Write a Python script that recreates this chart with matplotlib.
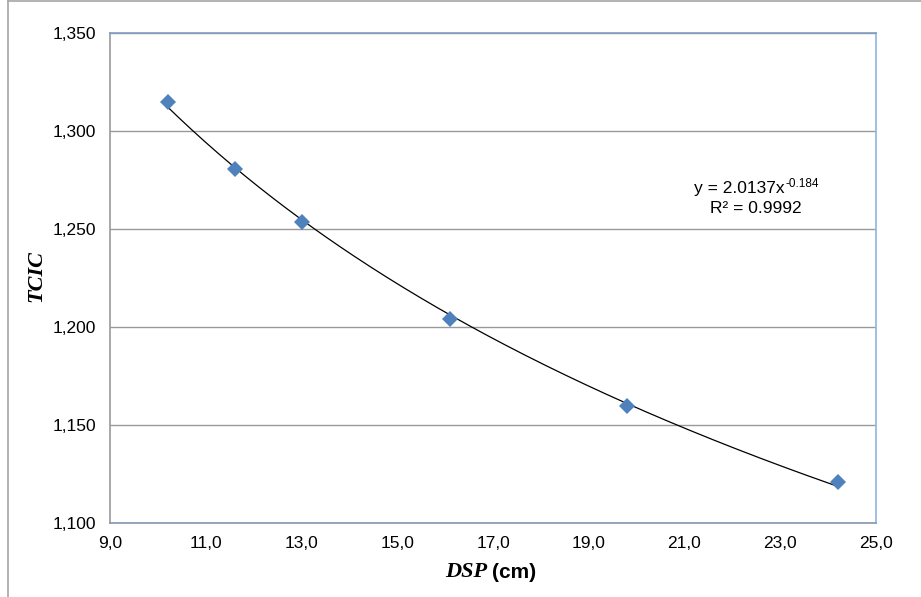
import numpy as np
import matplotlib.pyplot as plt
from matplotlib.lines import Line2D

# data
dsp = [10.22, 11.61, 13.00, 16.10, 19.79, 24.20]
tcic = [1.315, 1.2806, 1.2535, 1.2039, 1.1599, 1.1211]
x_ticks = [9, 11, 13, 15, 17, 19, 21, 23, 25]
y_ticks = [1.100, 1.150, 1.200, 1.250, 1.300, 1.350]

W, H = 921, 597
fig = plt.figure(figsize=(W / 100, H / 100), dpi=100)
ax = fig.add_axes([110 / W, 1 - 523 / H, 766 / W, 490 / H])

# outer chart border (left and top visible)
fig.add_artist(Line2D([7.5 / W, 7.5 / W], [0, 1 - 1 / H], color='#a6a6a6', lw=1.2))
fig.add_artist(Line2D([7.5 / W, 1], [1 - 1 / H, 1 - 1 / H], color='#a6a6a6', lw=1.2))

## power trendline fitted on the points
b, ln_a = np.polyfit(np.log(dsp), np.log(tcic), 1)
xs = np.linspace(min(dsp), max(dsp), 200)
ax.plot(xs, np.exp(ln_a) * xs ** b, color='black', lw=0.9, zorder=3)

ax.plot(dsp, tcic, 'D', color='#4F81BD', markersize=8.5, markeredgewidth=0, zorder=4)

ax.set_xlim(9, 25)
ax.set_ylim(1.1, 1.35)
ax.set_xticks(x_ticks)
ax.set_yticks(y_ticks)
ax.set_xticklabels([f"{v:.1f}".replace('.', ',') for v in x_ticks])
ax.set_yticklabels([f"{v:.3f}".replace('.', ',') for v in y_ticks])
ax.tick_params(length=0, labelsize=12.5)
ax.tick_params(axis='y', pad=10)
ax.tick_params(axis='x', pad=9)
for lab in ax.get_xticklabels() + ax.get_yticklabels():
    lab.set_fontfamily('Liberation Sans')

ax.grid(axis='y', color='#999999', lw=1.0)
ax.set_axisbelow(True)
ax.spines['left'].set_color('#999999')
ax.spines['bottom'].set_color('#8497b0')
ax.spines['top'].set_color('#7f9cc4')
ax.spines['right'].set_color('#8eb4e3')
for s in ax.spines.values():
    s.set_linewidth(1.2)

# trendline equation
fig.text(785 / W, 1 - 193 / H, "y = 2.0137x", ha='right', va='baseline',
         fontsize=12.5, family='Liberation Sans')
fig.text(785.5 / W, 1 - 187 / H, "-0.184", ha='left', va='baseline',
         fontsize=8.5, family='Liberation Sans')
fig.text(756 / W, 1 - 213 / H, "R² = 0.9992", ha='center', va='baseline',
         fontsize=12.5, family='Liberation Sans')

fig.text(487 / W, 1 - 572 / H, "DSP", ha='right', va='center', fontsize=16,
         family='Liberation Serif', weight='bold', style='italic')
fig.text(492 / W, 1 - 572 / H, "(cm)", ha='left', va='center', fontsize=15,
         family='Liberation Sans', weight='bold')
fig.text(36 / W, 1 - 276 / H, "TCIC", ha='center', va='center', rotation=90,
         fontsize=16, family='Liberation Serif', weight='bold', style='italic')

fig.savefig('out.png', dpi=100)
